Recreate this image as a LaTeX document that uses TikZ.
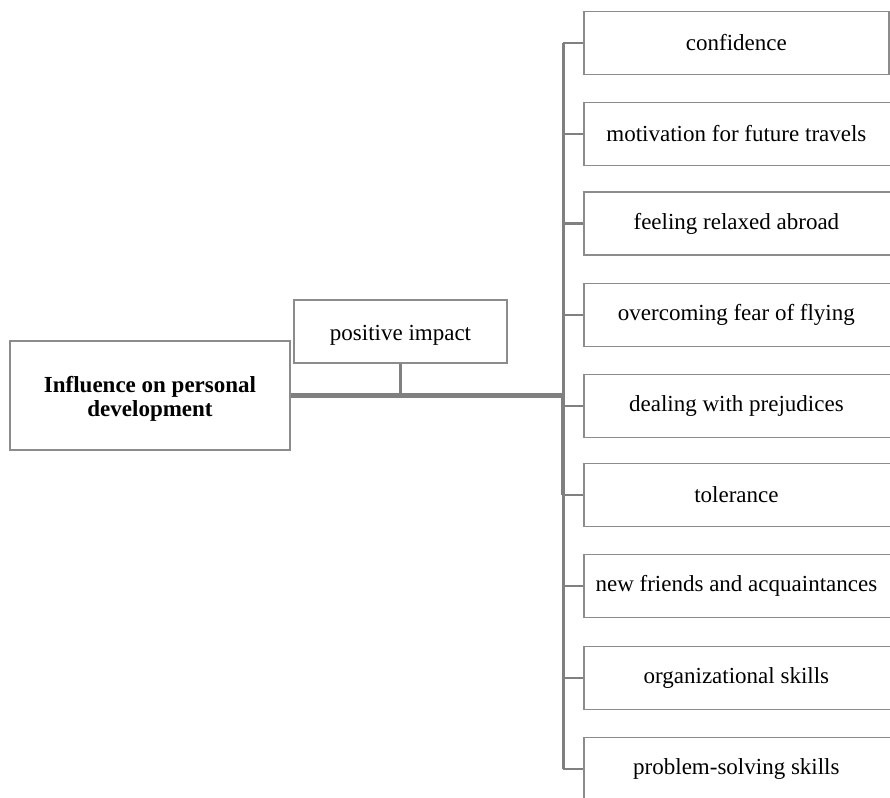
\documentclass[tikz,border=0pt]{standalone}
\usepackage{fontspec}
\setmainfont{Liberation Serif}
\definecolor{linegray}{RGB}{128,128,128}
\definecolor{boxgray}{RGB}{140,140,140}
\newcommand\cutlabel[1]{\makebox[305pt]{#1}\kern10pt}
\newcommand\lowered[2]{\raisebox{-#1}[\height][\depth]{#2}}
\begin{document}
\begin{tikzpicture}[x=1pt,y=1pt,
  every node/.style={font=\fontsize{23}{25}\selectfont, text=black},
  box/.style={draw=boxgray, line width=1.8pt, inner sep=0pt, align=center},
  rbox/.style={box, minimum height=63pt, anchor=west},
  trunk/.style={draw=linegray, line width=3pt},
  stub/.style={draw=linegray, line width=2.4pt},
  mainline/.style={draw=linegray, line width=4.5pt}]
\useasboundingbox (0,0) rectangle (890,797);
\clip (0,0) rectangle (890,797);
\node[box, minimum width=280pt, minimum height=109pt, font=\fontsize{23}{24}\selectfont\bfseries] (main) at (150,401.5)
  {\lowered{4pt}{\begin{tabular}{@{}c@{}}Influence on personal\\development\end{tabular}}};
\node[box, minimum width=213pt, minimum height=63pt] (pos) at (400.5,465.5) {\lowered{4pt}{positive impact}};
\coordinate (bus) at (563,0);
\node[rbox, minimum width=305pt] (c1) at (583,754) {confidence};
\node[rbox] (c2) at (583,663) {\cutlabel{motivation for future travels}};
\node[rbox] (c3) at (583,573.5) {\cutlabel{feeling relaxed abroad}};
\node[rbox] (c4) at (583,482) {\cutlabel{overcoming fear of flying}};
\node[rbox] (c5) at (583,391) {\cutlabel{dealing with prejudices}};
\node[rbox] (c6) at (583,302) {\cutlabel{tolerance}};
\node[rbox] (c7) at (583,211) {\cutlabel{new friends and acquaintances}};
\node[rbox] (c8) at (583,119) {\cutlabel{organizational skills}};
\node[rbox] (c9) at (583,28) {\cutlabel{problem-solving skills}};
\coordinate (mainy) at (0,401.5);
\draw[trunk] (bus |- c1.west) -- (bus |- c9.west);
\foreach \n in {c1,c2,c3,c4,c5,c6,c7,c8,c9}
  \draw[stub] (bus |- \n.west) -- (\n.west);
\draw[mainline] (main.east |- mainy) -- (bus |- mainy);
\draw[mainline] (bus |- mainy) -- (bus |- c6.west);
\draw[stub] (pos.south) -- (pos.south |- mainy);
\end{tikzpicture}
\end{document}
